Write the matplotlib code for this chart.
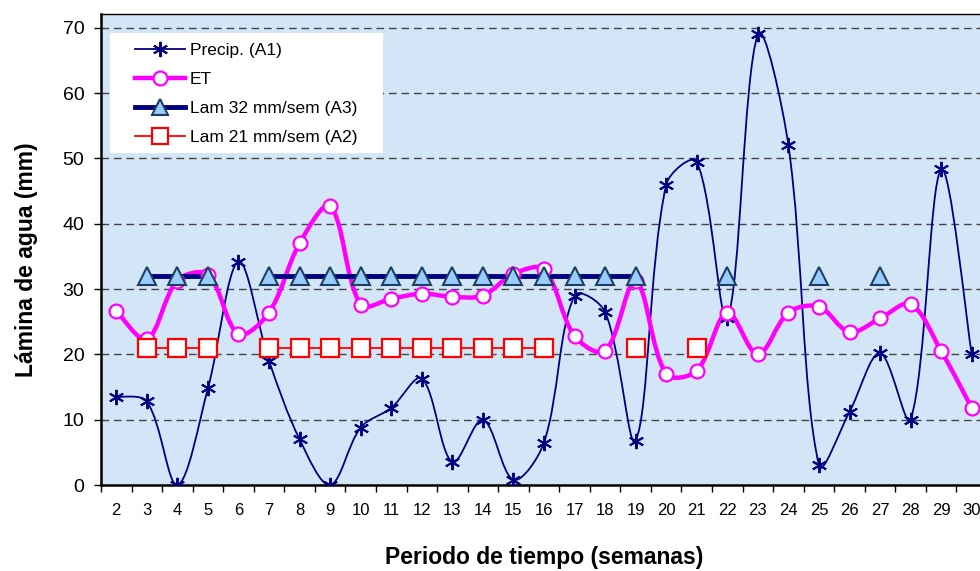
import numpy as np
import matplotlib
matplotlib.use("Agg")
from matplotlib import pyplot as plt
from matplotlib.path import Path
from matplotlib.patches import PathPatch, Rectangle
from matplotlib.lines import Line2D

plt.rcParams['font.family'] = ['Liberation Sans', 'DejaVu Sans']

semanas = list(range(2, 31))

precip = [13.5, 12.8, 0.0, 14.8, 34.2, 19.0, 7.0, 0.0, 8.8, 11.8,
          16.3, 3.5, 10.0, 0.8, 6.5, 29.0, 26.5, 6.8, 46.0, 49.5,
          25.5, 69.0, 52.0, 3.0, 11.2, 20.2, 10.0, 48.3, 20.0]

et = [26.7, 22.3, 31.3, 32.2, 23.1, 26.4, 37.0, 42.7, 27.6, 28.5,
      29.3, 28.8, 29.0, 32.3, 33.0, 22.8, 20.5, 31.2, 17.0, 17.5,
      26.4, 20.0, 26.4, 27.3, 23.4, 25.5, 27.7, 20.5, 11.8]

# riego: semanas con lamina aplicada (None = sin riego)
lam32 = [None, 32, 32, 32, None, 32, 32, 32, 32, 32,
         32, 32, 32, 32, 32, 32, 32, 32, None, None,
         32, None, None, 32, None, 32, None, None, None]

lam21 = [None, 21, 21, 21, None, 21, 21, 21, 21, 21,
         21, 21, 21, 21, 21, None, None, 21, None, 21,
         None, None, None, None, None, None, None, None, None]

yticks = [0, 10, 20, 30, 40, 50, 60, 70]


def smooth_path(ax, x, y):
    # curva suavizada estilo Excel: Bezier cubica con tangentes
    # escaladas segun la longitud de cada tramo (en pixeles)
    pts = ax.transData.transform(np.column_stack([x, y]).astype(float))
    n = len(pts)
    seg = np.hypot(*np.diff(pts, axis=0).T)
    verts = [pts[0]]
    codes = [Path.MOVETO]
    for i in range(n - 1):
        p0 = pts[i - 1] if i > 0 else pts[i]
        p1, p2 = pts[i], pts[i + 1]
        p3 = pts[i + 2] if i + 2 < n else pts[i + 1]
        d01 = seg[i - 1] if i > 0 else seg[i]
        d12 = seg[i]
        d23 = seg[i + 1] if i + 2 < n else seg[i]
        c1 = p1 + (p2 - p0) / 3.0 * d12 / (d01 + d12)
        c2 = p2 - (p3 - p1) / 3.0 * d12 / (d12 + d23)
        verts += [c1, c2, p2]
        codes += [Path.CURVE4] * 3
    verts = ax.transData.inverted().transform(np.array(verts))
    return Path(verts, codes)


fig = plt.figure(figsize=(9.8, 5.71), dpi=100)
ax = fig.add_axes([101 / 980, 1 - 485 / 571, 886 / 980, 471 / 571])
ax.set_facecolor('#d3e6f8')

ax.set_xlim(1.5, 30.5)
ax.set_ylim(0, 72.1)

for v in yticks[1:]:
    ax.axhline(v, color='#444444', lw=1.0, dashes=(5.5, 3.5), zorder=1)

# Precipitacion
ax.add_patch(PathPatch(smooth_path(ax, semanas, precip), fill=False,
                       edgecolor='#000080', lw=1.3, zorder=3))
ax.plot(semanas, precip, ls='none', marker=(6, 2, 0), ms=11, mew=1.4,
        color='#000080', zorder=4)

# Evapotranspiracion
ax.add_patch(PathPatch(smooth_path(ax, semanas, et), fill=False,
                       edgecolor='#ff00ff', lw=3.2, zorder=3))
ax.plot(semanas, et, ls='none', marker='o', ms=10, mfc='white',
        mec='#ff00ff', mew=1.6, zorder=5)

# Laminas de riego
y32 = [np.nan if v is None else v for v in lam32]
y21 = [np.nan if v is None else v for v in lam21]
ax.plot(semanas, y32, color='#000080', lw=3.5, zorder=4)
ax.plot(semanas, y32, ls='none', marker='^', ms=13, mfc='#99ccff',
        mec='#1f3f5f', mew=1.5, zorder=6)
ax.plot(semanas, y21, color='#ff0000', lw=1.3, zorder=4)
ax.plot(semanas, y21, ls='none', marker='s', ms=13, mfc='white',
        mec='#ff0000', mew=1.6, zorder=6)

ax.set_yticks(yticks)
ax.set_xticks(semanas)
ax.set_xticks(np.arange(1.5, 31, 1), minor=True)
ax.tick_params(axis='x', which='major', length=0, pad=13, labelsize=12)
ax.tick_params(axis='x', which='minor', length=5, width=1, direction='out')
ax.tick_params(axis='y', length=5, width=1, direction='out', pad=7,
               labelsize=14)

for side in ['left', 'bottom']:
    ax.spines[side].set_linewidth(1.8)
ax.spines['top'].set_linewidth(1.0)
ax.spines['right'].set_visible(False)

ax.set_ylabel('Lámina de agua (mm)', fontsize=16.5, fontweight='bold')
ax.yaxis.set_label_coords(-63 / 886, 225 / 471)
ax.set_xlabel('Periodo de tiempo (semanas)', fontsize=16.5,
              fontweight='bold', labelpad=20)

# caja blanca de la leyenda
ax.add_patch(Rectangle((9 / 886, 332 / 471), 273 / 886, 120 / 471,
                       transform=ax.transAxes, facecolor='white',
                       edgecolor='none', zorder=9))

handles = [
    Line2D([], [], color='#000080', lw=1.3, marker=(6, 2, 0), ms=11, mew=1.4),
    Line2D([], [], color='#ff00ff', lw=3.2, marker='o', ms=10, mfc='white',
           mec='#ff00ff', mew=1.6),
    Line2D([], [], color='#000080', lw=3.5, marker='^', ms=11,
           mfc='#99ccff', mec='#1f3f5f', mew=1.5),
    Line2D([], [], color='#ff0000', lw=1.3, marker='s', ms=11, mfc='white',
           mec='#ff0000', mew=1.6),
]
labels = ['Precip. (A1)', 'ET', 'Lam 32 mm/sem (A3)', 'Lam 21 mm/sem (A2)']
leg = ax.legend(handles, labels, loc='upper left',
                bbox_to_anchor=(34 / 886, 442 / 471), fontsize=12.5,
                frameon=False, handlelength=2.9, handletextpad=0.25,
                labelspacing=0.8, borderpad=0, borderaxespad=0)
leg.set_zorder(10)

fig.savefig('out.png', dpi=100)
